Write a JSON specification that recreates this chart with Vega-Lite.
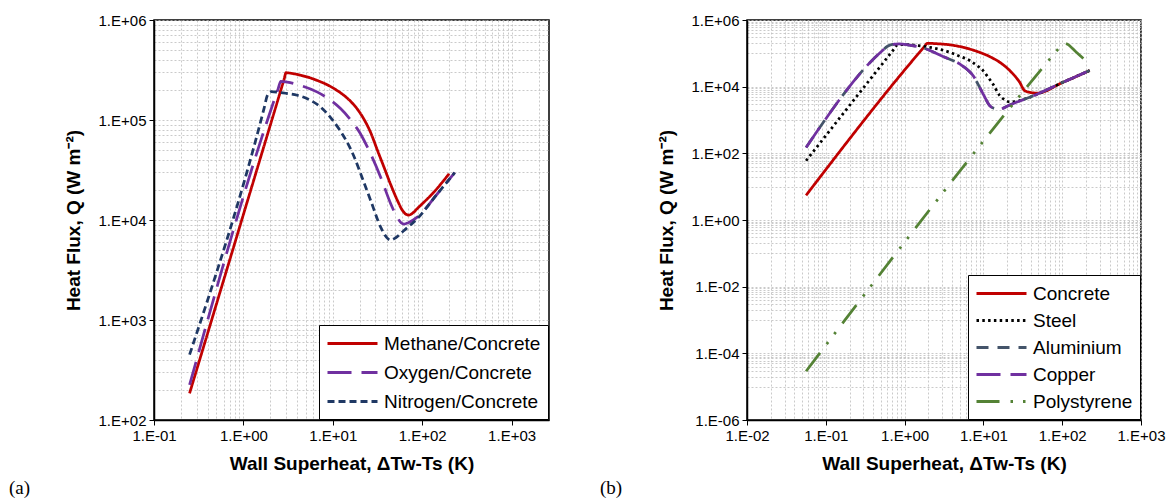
{
  "$schema": "https://vega.github.io/schema/vega-lite/v6.json",
  "background": "white",
  "padding": {"left": 8, "top": 12, "right": 5, "bottom": 0},
  "spacing": 49,
  "config": {
    "font": "Liberation Sans",
    "view": {"stroke": "black", "strokeWidth": 1.5},
    "axis": {
      "domainColor": "black", "domainWidth": 1.5,
      "tickColor": "black", "tickSize": 5, "tickWidth": 1,
      "labelColor": "black", "labelFontSize": 15, "labelPadding": 3,
      "labelFlush": false, "labelOverlap": false, "labelBound": false,
      "titleColor": "black", "titleFontSize": 19, "titleFontWeight": "bold",
      "gridColor": "#bdbdbd", "gridDash": [2, 2], "gridWidth": 0.8
    },
    "axisX": {"titlePadding": 11},
    "axisY": {"titlePadding": 15},
    "legend": {
      "orient": "bottom-right", "offset": 1, "fillColor": "white", "strokeColor": "black",
      "padding": 7, "labelFontSize": 19, "labelColor": "black", "labelOffset": 35, "labelLimit": 400,
      "symbolType": "M-1,0H4", "symbolSize": 400, "symbolStrokeWidth": 3
    }
  },
  "resolve": {"scale": {"x": "independent", "y": "independent", "color": "independent", "strokeDash": "independent"}},
  "datasets": {
    "a": [
      {"s": "Methane/Concrete", "x": 0.25, "y": 185},
      {"s": "Methane/Concrete", "x": 2.85, "y": 255000},
      {"s": "Methane/Concrete", "x": 3.0, "y": 297000},
      {"s": "Methane/Concrete", "x": 3.5, "y": 292000},
      {"s": "Methane/Concrete", "x": 4.38, "y": 280000},
      {"s": "Methane/Concrete", "x": 5.5, "y": 265000},
      {"s": "Methane/Concrete", "x": 6.73, "y": 248000},
      {"s": "Methane/Concrete", "x": 8.5, "y": 227000},
      {"s": "Methane/Concrete", "x": 11.2, "y": 197000},
      {"s": "Methane/Concrete", "x": 14, "y": 170000},
      {"s": "Methane/Concrete", "x": 16.6, "y": 147000},
      {"s": "Methane/Concrete", "x": 19, "y": 127000},
      {"s": "Methane/Concrete", "x": 22, "y": 104000},
      {"s": "Methane/Concrete", "x": 26.5, "y": 75000},
      {"s": "Methane/Concrete", "x": 31.5, "y": 50000},
      {"s": "Methane/Concrete", "x": 37.4, "y": 33700},
      {"s": "Methane/Concrete", "x": 44.5, "y": 22500},
      {"s": "Methane/Concrete", "x": 52.8, "y": 15700},
      {"s": "Methane/Concrete", "x": 60, "y": 12500},
      {"s": "Methane/Concrete", "x": 66, "y": 11400},
      {"s": "Methane/Concrete", "x": 71, "y": 11200},
      {"s": "Methane/Concrete", "x": 78, "y": 11700},
      {"s": "Methane/Concrete", "x": 88, "y": 13000},
      {"s": "Methane/Concrete", "x": 135, "y": 19000},
      {"s": "Methane/Concrete", "x": 200, "y": 29000},
      {"s": "Oxygen/Concrete", "x": 0.25, "y": 224},
      {"s": "Oxygen/Concrete", "x": 2.45, "y": 206000},
      {"s": "Oxygen/Concrete", "x": 2.62, "y": 244000},
      {"s": "Oxygen/Concrete", "x": 3.1, "y": 239000},
      {"s": "Oxygen/Concrete", "x": 4.38, "y": 221000},
      {"s": "Oxygen/Concrete", "x": 6.73, "y": 190000},
      {"s": "Oxygen/Concrete", "x": 9.5, "y": 157000},
      {"s": "Oxygen/Concrete", "x": 12.2, "y": 130000},
      {"s": "Oxygen/Concrete", "x": 16.6, "y": 95000},
      {"s": "Oxygen/Concrete", "x": 20, "y": 75000},
      {"s": "Oxygen/Concrete", "x": 24.4, "y": 53500},
      {"s": "Oxygen/Concrete", "x": 34.3, "y": 26800},
      {"s": "Oxygen/Concrete", "x": 44.5, "y": 14500},
      {"s": "Oxygen/Concrete", "x": 52, "y": 10800},
      {"s": "Oxygen/Concrete", "x": 58, "y": 9400},
      {"s": "Oxygen/Concrete", "x": 63, "y": 9100},
      {"s": "Oxygen/Concrete", "x": 70, "y": 9400},
      {"s": "Oxygen/Concrete", "x": 88, "y": 10700},
      {"s": "Oxygen/Concrete", "x": 148, "y": 18300},
      {"s": "Oxygen/Concrete", "x": 231, "y": 29700},
      {"s": "Nitrogen/Concrete", "x": 0.25, "y": 450},
      {"s": "Nitrogen/Concrete", "x": 1.7, "y": 130000},
      {"s": "Nitrogen/Concrete", "x": 1.85, "y": 175000},
      {"s": "Nitrogen/Concrete", "x": 2.05, "y": 192000},
      {"s": "Nitrogen/Concrete", "x": 2.4, "y": 190000},
      {"s": "Nitrogen/Concrete", "x": 3.0, "y": 185000},
      {"s": "Nitrogen/Concrete", "x": 4.0, "y": 177000},
      {"s": "Nitrogen/Concrete", "x": 5.66, "y": 157000},
      {"s": "Nitrogen/Concrete", "x": 7.5, "y": 132000},
      {"s": "Nitrogen/Concrete", "x": 9.5, "y": 105000},
      {"s": "Nitrogen/Concrete", "x": 12, "y": 79000},
      {"s": "Nitrogen/Concrete", "x": 14.6, "y": 59000},
      {"s": "Nitrogen/Concrete", "x": 17.5, "y": 42000},
      {"s": "Nitrogen/Concrete", "x": 20.5, "y": 29000},
      {"s": "Nitrogen/Concrete", "x": 26.5, "y": 15700},
      {"s": "Nitrogen/Concrete", "x": 34.3, "y": 8500},
      {"s": "Nitrogen/Concrete", "x": 40, "y": 6700},
      {"s": "Nitrogen/Concrete", "x": 44, "y": 6300},
      {"s": "Nitrogen/Concrete", "x": 50, "y": 6600},
      {"s": "Nitrogen/Concrete", "x": 62.6, "y": 7850},
      {"s": "Nitrogen/Concrete", "x": 88, "y": 10300},
      {"s": "Nitrogen/Concrete", "x": 148, "y": 18300},
      {"s": "Nitrogen/Concrete", "x": 231, "y": 29700}
    ],
    "b": [
      {"s": "Concrete", "x": 0.0562, "y": 5.5},
      {"s": "Concrete", "x": 1.8, "y": 163000},
      {"s": "Concrete", "x": 1.94, "y": 200000},
      {"s": "Concrete", "x": 2.7, "y": 193000},
      {"s": "Concrete", "x": 3.73, "y": 180000},
      {"s": "Concrete", "x": 5.51, "y": 152000},
      {"s": "Concrete", "x": 8.13, "y": 116000},
      {"s": "Concrete", "x": 12.0, "y": 80000},
      {"s": "Concrete", "x": 16.1, "y": 54000},
      {"s": "Concrete", "x": 21.6, "y": 30400},
      {"s": "Concrete", "x": 28.9, "y": 13500},
      {"s": "Concrete", "x": 33.4, "y": 7600},
      {"s": "Concrete", "x": 40.6, "y": 6600},
      {"s": "Concrete", "x": 48, "y": 6400},
      {"s": "Concrete", "x": 102, "y": 13500},
      {"s": "Concrete", "x": 223, "y": 30400},
      {"s": "Steel", "x": 0.0562, "y": 60},
      {"s": "Steel", "x": 0.75, "y": 143000},
      {"s": "Steel", "x": 0.81, "y": 180000},
      {"s": "Steel", "x": 1.05, "y": 184000},
      {"s": "Steel", "x": 1.5, "y": 170000},
      {"s": "Steel", "x": 2.08, "y": 152000},
      {"s": "Steel", "x": 3.73, "y": 108000},
      {"s": "Steel", "x": 5.0, "y": 82000},
      {"s": "Steel", "x": 6.7, "y": 61000},
      {"s": "Steel", "x": 8.3, "y": 43000},
      {"s": "Steel", "x": 9.9, "y": 30400},
      {"s": "Steel", "x": 11.5, "y": 19000},
      {"s": "Steel", "x": 13.2, "y": 12100},
      {"s": "Steel", "x": 16.1, "y": 5400},
      {"s": "Steel", "x": 18.5, "y": 4100},
      {"s": "Steel", "x": 21.5, "y": 3500},
      {"s": "Steel", "x": 26, "y": 3600},
      {"s": "Steel", "x": 35, "y": 4400},
      {"s": "Steel", "x": 102, "y": 13500},
      {"s": "Steel", "x": 223, "y": 30400},
      {"s": "Aluminium", "x": 0.0562, "y": 150},
      {"s": "Aluminium", "x": 0.52, "y": 120000},
      {"s": "Aluminium", "x": 0.6, "y": 160000},
      {"s": "Aluminium", "x": 0.7, "y": 185000},
      {"s": "Aluminium", "x": 0.85, "y": 192000},
      {"s": "Aluminium", "x": 1.17, "y": 175000},
      {"s": "Aluminium", "x": 1.71, "y": 146000},
      {"s": "Aluminium", "x": 3.07, "y": 80000},
      {"s": "Aluminium", "x": 5.0, "y": 48000},
      {"s": "Aluminium", "x": 6.7, "y": 28000},
      {"s": "Aluminium", "x": 7.5, "y": 20500},
      {"s": "Aluminium", "x": 8.5, "y": 12100},
      {"s": "Aluminium", "x": 9.9, "y": 6100},
      {"s": "Aluminium", "x": 12.0, "y": 2700},
      {"s": "Aluminium", "x": 14, "y": 2200},
      {"s": "Aluminium", "x": 16.1, "y": 2100},
      {"s": "Aluminium", "x": 20, "y": 2600},
      {"s": "Aluminium", "x": 26.2, "y": 3400},
      {"s": "Aluminium", "x": 38.6, "y": 4800},
      {"s": "Aluminium", "x": 102, "y": 13500},
      {"s": "Aluminium", "x": 223, "y": 30400},
      {"s": "Copper", "x": 0.0562, "y": 150},
      {"s": "Copper", "x": 0.52, "y": 120000},
      {"s": "Copper", "x": 0.6, "y": 160000},
      {"s": "Copper", "x": 0.7, "y": 185000},
      {"s": "Copper", "x": 0.85, "y": 192000},
      {"s": "Copper", "x": 1.17, "y": 175000},
      {"s": "Copper", "x": 1.71, "y": 146000},
      {"s": "Copper", "x": 3.07, "y": 80000},
      {"s": "Copper", "x": 5.0, "y": 48000},
      {"s": "Copper", "x": 6.7, "y": 28000},
      {"s": "Copper", "x": 7.5, "y": 20500},
      {"s": "Copper", "x": 8.5, "y": 12100},
      {"s": "Copper", "x": 9.9, "y": 6100},
      {"s": "Copper", "x": 12.0, "y": 2700},
      {"s": "Copper", "x": 14, "y": 2200},
      {"s": "Copper", "x": 16.1, "y": 2100},
      {"s": "Copper", "x": 20, "y": 2600},
      {"s": "Copper", "x": 26.2, "y": 3400},
      {"s": "Copper", "x": 38.6, "y": 4800},
      {"s": "Copper", "x": 102, "y": 13500},
      {"s": "Copper", "x": 223, "y": 30400},
      {"s": "Polystyrene", "x": 0.0562, "y": 0.000029},
      {"s": "Polystyrene", "x": 95, "y": 163000},
      {"s": "Polystyrene", "x": 103, "y": 205000},
      {"s": "Polystyrene", "x": 115, "y": 192000},
      {"s": "Polystyrene", "x": 150, "y": 110000},
      {"s": "Polystyrene", "x": 195, "y": 63000}
    ]
  },
  "hconcat": [
    {
      "width": 395,
      "height": 400,
      "data": {"name": "a"},
      "title": {"text": "(a)", "orient": "bottom", "anchor": "start", "frame": "group", "dx": -145, "offset": 6, "font": "Liberation Serif", "fontSize": 19, "fontWeight": "normal", "color": "black"},
      "mark": {"type": "line", "strokeWidth": 2.75, "clip": true, "interpolate": "monotone"},
      "encoding": {
        "x": {
          "field": "x", "type": "quantitative",
          "scale": {"type": "log", "domain": [0.1, 2620], "nice": false},
          "axis": {
            "title": "Wall Superheat, ΔTw-Ts (K)",
            "values": [0.1, 0.2, 0.3, 0.4, 0.5, 0.6, 0.7, 0.8, 0.9, 1, 2, 3, 4, 5, 6, 7, 8, 9, 10, 20, 30, 40, 50, 60, 70, 80, 90, 100, 200, 300, 400, 500, 600, 700, 800, 900, 1000, 2000],
            "labelExpr": "abs(log(datum.value)/LN10 - round(log(datum.value)/LN10)) < 0.001 ? '1.E' + (round(log(datum.value)/LN10) < 0 ? '-' : '+') + (abs(round(log(datum.value)/LN10)) < 10 ? '0' : '') + abs(round(log(datum.value)/LN10)) : ''",
            "tickOpacity": {"condition": {"test": "abs(log(datum.value)/LN10 - round(log(datum.value)/LN10)) < 0.001", "value": 1}, "value": 0}
          }
        },
        "y": {
          "field": "y", "type": "quantitative",
          "scale": {"type": "log", "domain": [100, 1000000], "nice": false},
          "axis": {
            "title": "Heat Flux, Q (W m⁻²)",
            "values": [100, 200, 300, 400, 500, 600, 700, 800, 900, 1000, 2000, 3000, 4000, 5000, 6000, 7000, 8000, 9000, 10000, 20000, 30000, 40000, 50000, 60000, 70000, 80000, 90000, 100000, 200000, 300000, 400000, 500000, 600000, 700000, 800000, 900000, 1000000],
            "labelExpr": "abs(log(datum.value)/LN10 - round(log(datum.value)/LN10)) < 0.001 ? '1.E' + (round(log(datum.value)/LN10) < 0 ? '-' : '+') + (abs(round(log(datum.value)/LN10)) < 10 ? '0' : '') + abs(round(log(datum.value)/LN10)) : ''",
            "tickOpacity": {"condition": {"test": "abs(log(datum.value)/LN10 - round(log(datum.value)/LN10)) < 0.001", "value": 1}, "value": 0}
          }
        },
        "color": {
          "field": "s", "type": "nominal",
          "scale": {"domain": ["Methane/Concrete", "Oxygen/Concrete", "Nitrogen/Concrete"], "range": ["#C00000", "#7030A0", "#1F3864"]},
          "legend": {"title": null, "rowPadding": 7}
        },
        "strokeDash": {
          "field": "s", "type": "nominal",
          "scale": {"domain": ["Methane/Concrete", "Oxygen/Concrete", "Nitrogen/Concrete"], "range": [[1, 0], [24, 10], [7, 4]]},
          "legend": {"title": null, "rowPadding": 7}
        }
      }
    },
    {
      "width": 394,
      "height": 400,
      "data": {"name": "b"},
      "title": {"text": "(b)", "orient": "bottom", "anchor": "start", "frame": "group", "dx": -147, "offset": 6, "font": "Liberation Serif", "fontSize": 19, "fontWeight": "normal", "color": "black"},
      "mark": {"type": "line", "strokeWidth": 2.75, "clip": true, "interpolate": "monotone"},
      "encoding": {
        "x": {
          "field": "x", "type": "quantitative",
          "scale": {"type": "log", "domain": [0.01, 1000], "nice": false},
          "axis": {
            "title": "Wall Superheat, ΔTw-Ts (K)",
            "values": [0.01, 0.02, 0.03, 0.04, 0.05, 0.06, 0.07, 0.08, 0.09, 0.1, 0.2, 0.3, 0.4, 0.5, 0.6, 0.7, 0.8, 0.9, 1, 2, 3, 4, 5, 6, 7, 8, 9, 10, 20, 30, 40, 50, 60, 70, 80, 90, 100, 200, 300, 400, 500, 600, 700, 800, 900, 1000],
            "labelExpr": "abs(log(datum.value)/LN10 - round(log(datum.value)/LN10)) < 0.001 ? '1.E' + (round(log(datum.value)/LN10) < 0 ? '-' : '+') + (abs(round(log(datum.value)/LN10)) < 10 ? '0' : '') + abs(round(log(datum.value)/LN10)) : ''",
            "tickOpacity": {"condition": {"test": "abs(log(datum.value)/LN10 - round(log(datum.value)/LN10)) < 0.001", "value": 1}, "value": 0}
          }
        },
        "y": {
          "field": "y", "type": "quantitative",
          "scale": {"type": "log", "domain": [0.000001, 1000000], "nice": false},
          "axis": {
            "title": "Heat Flux, Q (W m⁻²)",
            "values": [0.000001, 0.00001, 0.00002, 0.00003, 0.00004, 0.00005, 0.00006, 0.00007, 0.00008, 0.00009, 0.0001, 0.001, 0.002, 0.003, 0.004, 0.005, 0.006, 0.007, 0.008, 0.009, 0.01, 0.1, 0.2, 0.3, 0.4, 0.5, 0.6, 0.7, 0.8, 0.9, 1, 10, 20, 30, 40, 50, 60, 70, 80, 90, 100, 1000, 2000, 3000, 4000, 5000, 6000, 7000, 8000, 9000, 10000, 100000, 200000, 300000, 400000, 500000, 600000, 700000, 800000, 900000, 1000000],
            "labelExpr": "abs(log(datum.value)/LN10 - round(log(datum.value)/LN10)) < 0.001 && round(log(datum.value)/LN10) % 2 == 0 ? '1.E' + (round(log(datum.value)/LN10) < 0 ? '-' : '+') + (abs(round(log(datum.value)/LN10)) < 10 ? '0' : '') + abs(round(log(datum.value)/LN10)) : ''",
            "tickOpacity": {"condition": {"test": "abs(log(datum.value)/LN10 - round(log(datum.value)/LN10)) < 0.001 && round(log(datum.value)/LN10) % 2 == 0", "value": 1}, "value": 0}
          }
        },
        "color": {
          "field": "s", "type": "nominal",
          "scale": {"domain": ["Concrete", "Steel", "Aluminium", "Copper", "Polystyrene"], "range": ["#C00000", "#000000", "#44546A", "#7030A0", "#548235"]},
          "legend": {"title": null, "rowPadding": 5}
        },
        "strokeDash": {
          "field": "s", "type": "nominal",
          "scale": {"domain": ["Concrete", "Steel", "Aluminium", "Copper", "Polystyrene"], "range": [[1, 0], [2.5, 3.3], [12, 9], [24, 10], [23, 11, 2.5, 10, 2.5, 11]]},
          "legend": {"title": null, "rowPadding": 5}
        }
      }
    }
  ]
}
